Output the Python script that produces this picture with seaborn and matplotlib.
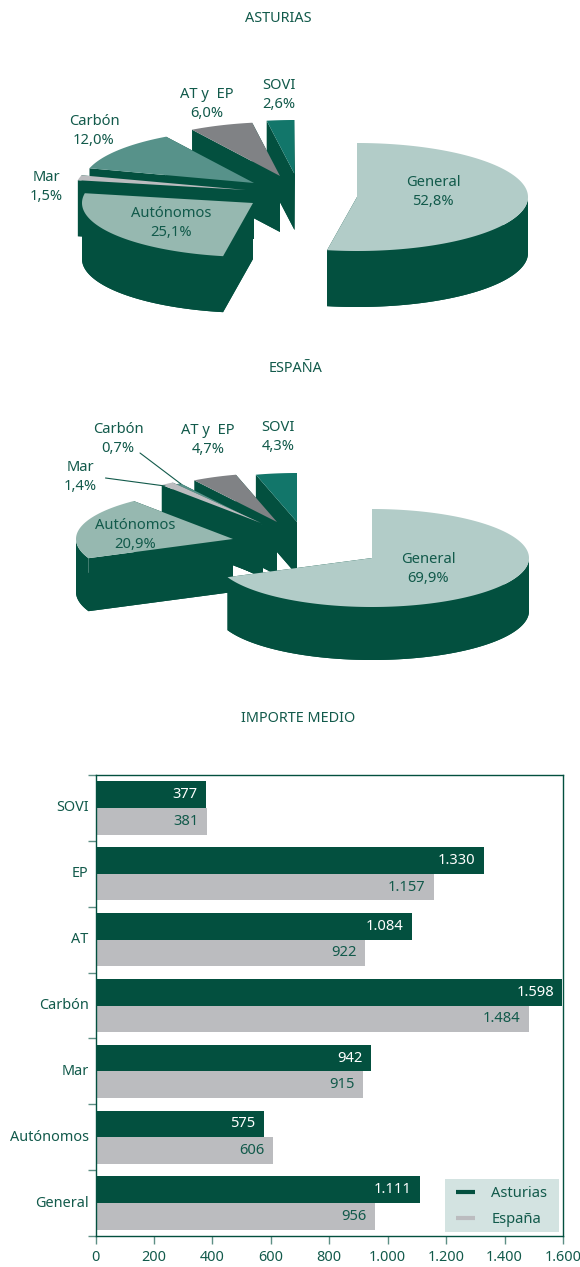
import numpy as np
import pandas as pd
import matplotlib.pyplot as plt
from matplotlib.lines import Line2D
from matplotlib.patches import Rectangle
import seaborn as sns

# Pie data
pie_names = ["General", "Autónomos", "Mar", "Carbón", "AT y  EP", "SOVI"]
asturias_share = [52.8, 25.1, 1.5, 12.0, 6.0, 2.6]
espana_share = [69.9, 20.9, 1.4, 0.7, 4.7, 4.3]

# Bar data
bar_names = ["SOVI", "EP", "AT", "Carbón", "Mar", "Autónomos", "General"]
asturias_amount = [377, 1330, 1084, 1598, 942, 575, 1111]
espana_amount = [381, 1157, 922, 1484, 915, 606, 956]
x_ticks = [0, 200, 400, 600, 800, 1000, 1200, 1400, 1600]

# Colors
DARK = "#03503F"
TEXT = "#125A4B"
GREY = "#BBBCBF"
slice_colors = ["#B2CCC8", "#96B8B0", "#BBBCBF", "#57928A", "#808285", "#12766A"]

W, H = 580, 1267
FONT = 10.6

sns.set_theme(style="white")
plt.rcParams["font.family"] = ["Noto Sans", "DejaVu Sans"]

fig = plt.figure(figsize=(W / 100, H / 100), dpi=100)

# Overlay in pixel coordinates for the two pseudo 3D pies
pax = fig.add_axes([0, 0, 1, 1])
pax.set_xlim(0, W)
pax.set_ylim(H, 0)
pax.axis("off")


def draw_pie(shares, apexes, rx, ry, depth):
    # angles run clockwise from the top, shares are normalised like in a normal pie
    fr = np.array(shares) / sum(shares) * 360
    ends = 90 - np.cumsum(fr)
    starts = ends + fr
    # back slices first, General last
    for i in range(len(shares) - 1, -1, -1):
        t = np.radians(np.linspace(starts[i], ends[i], 400))
        cx, cy = apexes[i]
        arc_x = cx + rx * np.cos(t)
        arc_y = cy - ry * np.sin(t)
        slice_x = np.r_[cx, arc_x]
        slice_y = np.r_[cy, arc_y]
        # bottom face
        pax.fill(slice_x, slice_y + depth, color=DARK, lw=0)
        # outer wall, only the front part of the arc
        front = np.sin(t) <= 0
        if front.any():
            fx, fy = arc_x[front], arc_y[front]
            pax.fill(np.r_[fx, fx[::-1]], np.r_[fy, fy[::-1] + depth], color=DARK, lw=0)
        # the two cut faces
        for px, py in [(arc_x[0], arc_y[0]), (arc_x[-1], arc_y[-1])]:
            pax.fill([cx, px, px, cx], [cy, py, py + depth, cy + depth], color=DARK, lw=0)
        pax.fill(slice_x, slice_y, color=slice_colors[i], lw=0)


def pie_labels(shares, positions):
    for name, share, (x, y) in zip(pie_names, shares, positions):
        txt = name + "\n" + f"{share:.1f}%".replace(".", ",")
        pax.text(x, y, txt, ha="center", va="center", color=TEXT, fontsize=FONT,
                 linespacing=1.3, zorder=20)


# ASTURIAS
draw_pie(asturias_share,
         [(357, 197), (253, 203), (246, 190), (254, 183), (280, 176), (294.5, 174)],
         171, 54, 56)
pie_labels(asturias_share,
           [(433, 192), (171, 223), (46, 187), (94, 131), (207, 104), (279, 95)])

# ESPANA
draw_pie(espana_share,
         [(372, 558), (233, 539), (261, 523), (263, 525), (277, 522), (297, 522)],
         157, 49, 53)
pie_labels(espana_share,
           [(428, 569), (135, 535), (80, 477), (118, 439), (208, 440), (278, 437)])

# leader lines
pax.plot([140, 181], [453, 484], color=TEXT, lw=0.8, zorder=15)
pax.plot([105.5, 165], [478, 486], color=TEXT, lw=0.8, zorder=15)

# Titles
for txt, x, y in [("ASTURIAS", 278, 18), ("ESPAÑA", 296, 369), ("IMPORTE MEDIO", 298, 719)]:
    pax.text(x, y, txt, ha="center", va="center", color=TEXT, fontsize=10.4)

# Bar chart
left, right, top, bottom = 95.5, 563, 775, 1236
ax = fig.add_axes([left / W, (H - bottom) / H, (right - left) / W, (bottom - top) / H])

df = pd.DataFrame({
    "Tipo": bar_names * 2,
    "Importe": asturias_amount + espana_amount,
    "Zona": ["Asturias"] * len(bar_names) + ["España"] * len(bar_names),
})
sns.barplot(data=df, y="Tipo", x="Importe", hue="Zona", order=bar_names,
            palette={"Asturias": DARK, "España": GREY}, width=0.81, saturation=1,
            linewidth=0, legend=False, ax=ax)

ax.set_xlim(0, 1600)
ax.set_ylim(len(bar_names) - 0.5, -0.5)
ax.set_xlabel("")
ax.set_ylabel("")


def dotted(v):
    return f"{v:,}".replace(",", ".")


ax.set_xticks(x_ticks)
ax.set_xticklabels([dotted(v) for v in x_ticks])
ax.set_yticks(np.arange(len(bar_names) + 1) - 0.5, minor=False)
ax.set_yticklabels([""] * (len(bar_names) + 1))
ax.tick_params(axis="both", length=6, width=1, color="#5E8F85", left=True, bottom=True, pad=3)
ax.tick_params(axis="x", labelcolor=TEXT, labelsize=10.4, pad=4)

# category names sit between the ticks
for i, name in enumerate(bar_names):
    ax.annotate(name, xy=(0, i), xycoords=("axes fraction", "data"), xytext=(-5, 0),
                textcoords="offset points", ha="right", va="center", color=TEXT, fontsize=10.4)

for spine in ax.spines.values():
    spine.set_visible(True)
    spine.set_color(DARK)
    spine.set_linewidth(1)

for container, color, values in zip(ax.containers, ["white", TEXT], [asturias_amount, espana_amount]):
    labs = ax.bar_label(container, labels=[dotted(v) for v in values], padding=-6, color=color, fontsize=FONT)
    for lab in labs:
        lab.set_ha("right")

# legend box
ax.add_patch(Rectangle((0.7476, 0.0087), 0.2428, 0.1149, transform=ax.transAxes,
                       facecolor="#D3E3E1", edgecolor="none", zorder=4))
handles = [Line2D([], [], color=DARK, lw=3, solid_capstyle="butt"),
           Line2D([], [], color=GREY, lw=3, solid_capstyle="butt")]
leg = ax.legend(handles, ["Asturias", "España"], loc="upper left", frameon=False,
                bbox_to_anchor=(0.7476, 0.132), borderaxespad=0, fontsize=FONT, labelcolor=TEXT,
                handlelength=1.3, handletextpad=1.1, borderpad=0.75, labelspacing=0.75)

plt.savefig("out.png", dpi=100)
